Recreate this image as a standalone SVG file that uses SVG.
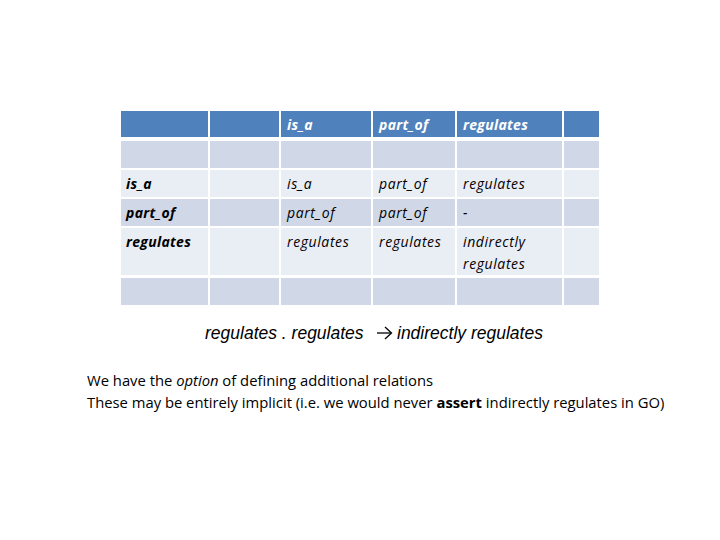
<svg xmlns="http://www.w3.org/2000/svg" width="720" height="540" viewBox="0 0 720 540">
<style>
.h{fill:#4F81BD}.d{fill:#D0D8E8}.l{fill:#E9EDF4}
text{font-family:"Open Sans",Lato,sans-serif;font-size:14px}
.t{font-style:italic;fill:#000;letter-spacing:0.6px}.b{font-weight:bold;letter-spacing:0.3px}.w{fill:#fff;font-weight:bold;font-style:italic;letter-spacing:0.3px}
.s{font-family:"Liberation Sans",Arial,sans-serif;font-style:italic;font-size:17.5px;letter-spacing:0}
.p{font-size:14.8px}
</style>
<rect width="720" height="540" fill="#fff"/>
<g id="table">
<rect class="h" x="121" y="111" width="87" height="26"/><rect class="h" x="210" y="111" width="69" height="26"/><rect class="h" x="281" y="111" width="90" height="26"/><rect class="h" x="373" y="111" width="82" height="26"/><rect class="h" x="457" y="111" width="105" height="26"/><rect class="h" x="564" y="111" width="35" height="26"/>
<rect class="d" x="121" y="141" width="87" height="27"/><rect class="d" x="210" y="141" width="69" height="27"/><rect class="d" x="281" y="141" width="90" height="27"/><rect class="d" x="373" y="141" width="82" height="27"/><rect class="d" x="457" y="141" width="105" height="27"/><rect class="d" x="564" y="141" width="35" height="27"/>
<rect class="l" x="121" y="170" width="87" height="27"/><rect class="l" x="210" y="170" width="69" height="27"/><rect class="l" x="281" y="170" width="90" height="27"/><rect class="l" x="373" y="170" width="82" height="27"/><rect class="l" x="457" y="170" width="105" height="27"/><rect class="l" x="564" y="170" width="35" height="27"/>
<rect class="d" x="121" y="199" width="87" height="27"/><rect class="d" x="210" y="199" width="69" height="27"/><rect class="d" x="281" y="199" width="90" height="27"/><rect class="d" x="373" y="199" width="82" height="27"/><rect class="d" x="457" y="199" width="105" height="27"/><rect class="d" x="564" y="199" width="35" height="27"/>
<rect class="l" x="121" y="228" width="87" height="47"/><rect class="l" x="210" y="228" width="69" height="47"/><rect class="l" x="281" y="228" width="90" height="47"/><rect class="l" x="373" y="228" width="82" height="47"/><rect class="l" x="457" y="228" width="105" height="47"/><rect class="l" x="564" y="228" width="35" height="47"/>
<rect class="d" x="121" y="278" width="87" height="27"/><rect class="d" x="210" y="278" width="69" height="27"/><rect class="d" x="281" y="278" width="90" height="27"/><rect class="d" x="373" y="278" width="82" height="27"/><rect class="d" x="457" y="278" width="105" height="27"/><rect class="d" x="564" y="278" width="35" height="27"/>
<text class="w" x="287" y="130">is_a</text><text class="w" x="379" y="130">part_of</text><text class="w" x="463" y="130">regulates</text>
<text class="t b" x="126" y="189">is_a</text><text class="t" x="287" y="189">is_a</text><text class="t" x="379" y="189">part_of</text><text class="t" x="463" y="189">regulates</text>
<text class="t b" x="126" y="218">part_of</text><text class="t" x="287" y="218">part_of</text><text class="t" x="379" y="218">part_of</text><text class="t" x="463" y="218">-</text>
<text class="t b" x="126" y="247">regulates</text><text class="t" x="287" y="247">regulates</text><text class="t" x="379" y="247">regulates</text><text class="t" x="463" y="247">indirectly</text><text class="t" x="463" y="269">regulates</text>
</g>
<g id="rule">
<text class="s" x="205" y="339">regulates . regulates</text>
<line x1="377" y1="333" x2="391" y2="333" stroke="#000" stroke-width="1.3"/>
<path d="M385,327 L391.5,333 L385,339" fill="none" stroke="#000" stroke-width="1.3"/>
<text class="s" x="397" y="339">indirectly regulates</text>
</g>
<g id="notes">
<text class="p" x="87" y="386">We have the <tspan font-style="italic">option</tspan> of defining additional relations</text>
<text class="p" x="87" y="408">These may be entirely implicit (i.e. we would never <tspan font-weight="bold">assert</tspan> indirectly regulates in GO)</text>
</g>
</svg>
